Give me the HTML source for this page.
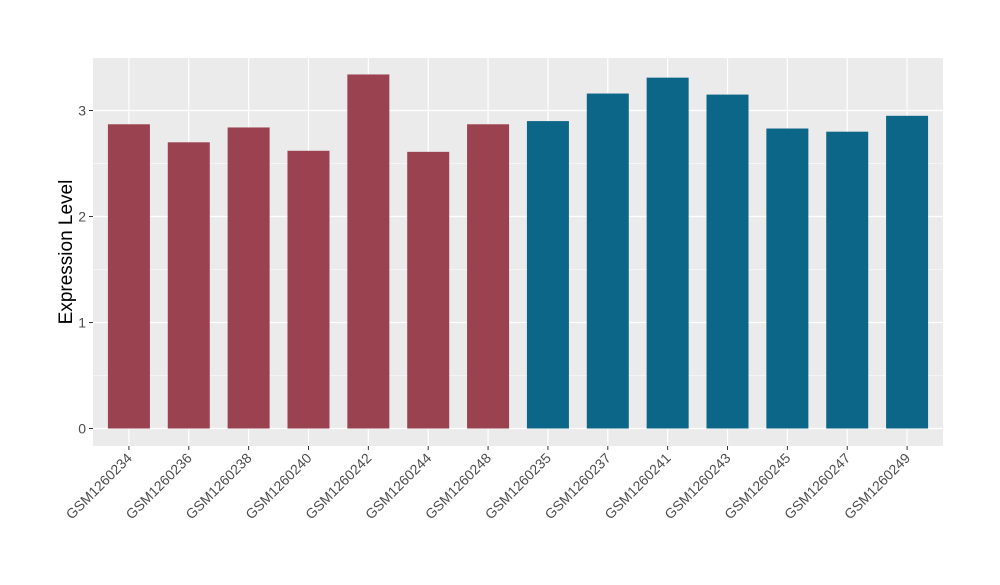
<!DOCTYPE html>
<html><head><meta charset="utf-8"><style>body{margin:0;background:#fff}svg text{font-family:"Liberation Sans",Arial,sans-serif}</style></head>
<body>
<svg id="c" width="1000" height="580"></svg>
<script>
const categories=["GSM1260234","GSM1260236","GSM1260238","GSM1260240","GSM1260242","GSM1260244","GSM1260248","GSM1260235","GSM1260237","GSM1260241","GSM1260243","GSM1260245","GSM1260247","GSM1260249"];
const values=[2.87,2.70,2.84,2.62,3.34,2.61,2.87,2.90,3.16,3.31,3.15,2.83,2.80,2.95];
const groups=[0,0,0,0,0,0,0,1,1,1,1,1,1,1];
const yTicks=[0,1,2,3];
const colors=["#9A4250","#0B6688"];
const L=93,R=943,T=58,B=446;
const x=i=>L+(i+0.6)*(R-L)/(categories.length+0.2);
const y=v=>428.5-v*106;
const ns="http://www.w3.org/2000/svg";
const svg=document.getElementById("c");
function mk(t,a,p){const e=document.createElementNS(ns,t);for(const k in a)e.setAttribute(k,a[k]);(p||svg).appendChild(e);return e;}
const bg=mk("rect",{x:L,y:T,width:R-L,height:B-T,fill:"#EBEBEB"});


yTicks.forEach(v=>{
  if(v<3){const m=mk("line",{x1:L,x2:R,y1:y(v+0.5),y2:y(v+0.5),stroke:"#fff","stroke-width":0.6});
  
  }
  const g=mk("line",{x1:L,x2:R,y1:y(v),y2:y(v),stroke:"#fff","stroke-width":1.2});
  
  
  const tk=mk("line",{x1:L-4,x2:L,y1:y(v),y2:y(v),stroke:"#333","stroke-width":1});
  
  
  const t=mk("text",{x:L-7,y:y(v)+5,"text-anchor":"end","font-size":14,fill:"#4D4D4D"});
  t.textContent=v;
  
  
});
categories.forEach((c,i)=>{
  const g=mk("line",{x1:x(i),x2:x(i),y1:T,y2:B,stroke:"#fff","stroke-width":1.2});
  
  
});
categories.forEach((c,i)=>{
  const w=42;
  const b=mk("rect",{x:x(i)-w/2,y:y(values[i]),width:w,height:y(0)-y(values[i]),fill:colors[groups[i]]});
  
  
  const tk=mk("line",{x1:x(i),x2:x(i),y1:B,y2:B+4,stroke:"#333","stroke-width":1});
  
  
  const t=mk("text",{x:x(i)+4,y:B+13,"text-anchor":"end","font-size":14,fill:"#4D4D4D",transform:`rotate(-45 ${x(i)+4} ${B+13})`});
  t.textContent=c;
  
  
});
const yt=mk("text",{x:72,y:252,"text-anchor":"middle","font-size":19,fill:"#000",transform:"rotate(-90 72 252)"});
yt.textContent="Expression Level";


</script>
</body></html>
